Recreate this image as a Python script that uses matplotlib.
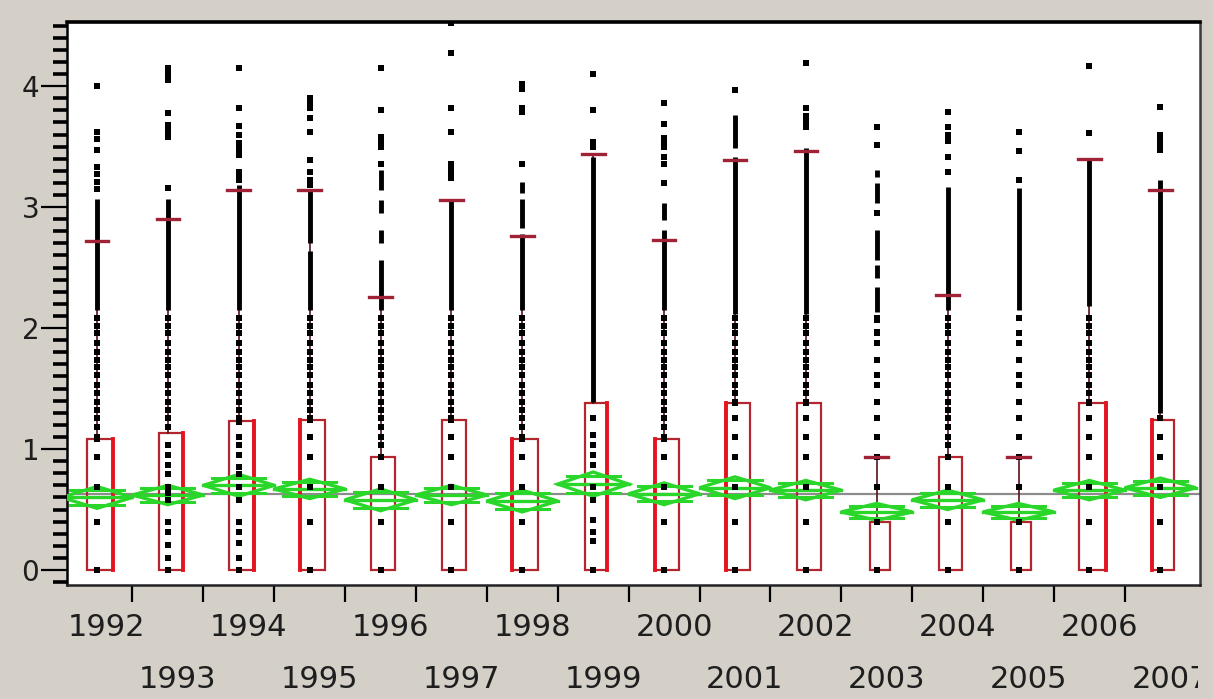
import numpy as np
import matplotlib.pyplot as plt
from matplotlib.patches import Rectangle, Polygon
from matplotlib.ticker import MultipleLocator
from matplotlib.transforms import Bbox, TransformedBbox, blended_transform_factory

years = [str(y) for y in range(1992, 2008)]

# box plot summary per year (Q1 is 0 everywhere)
q1 = [0.0] * 16
q3 = [1.08, 1.13, 1.23, 1.24, 0.93, 1.24, 1.08, 1.38, 1.08, 1.38, 1.38, 0.40, 0.93, 0.40, 1.38, 1.24]
whisker_hi = [2.72, 2.90, 3.14, 3.14, 2.26, 3.06, 2.76, 3.44, 2.73, 3.39, 3.46, 0.93, 2.27, 0.93, 3.40, 3.14]
box_w = [0.36, 0.34, 0.36, 0.36, 0.34, 0.34, 0.36, 0.32, 0.34, 0.34, 0.34, 0.28, 0.32, 0.28, 0.38, 0.32]
# side of the red "shortest half" bracket (-1 left, 1 right, 0 none)
half_side = [1, 1, 1, -1, 0, 0, -1, 1, -1, -1, 0, 0, 0, 0, 1, -1]

# means diamonds
means = [0.60, 0.62, 0.70, 0.67, 0.58, 0.62, 0.57, 0.71, 0.63, 0.68, 0.66, 0.48, 0.58, 0.48, 0.66, 0.68]
ci_half = [0.09, 0.08, 0.09, 0.08, 0.09, 0.08, 0.09, 0.10, 0.09, 0.09, 0.08, 0.07, 0.08, 0.07, 0.08, 0.08]
grand_mean = 0.625

# points inside the box
box_pts = [
    [0, 0.40, 0.69, 0.93, 1.08],
    [0, 0.10, 0.21, 0.31, 0.40, 0.58, 0.64, 0.69, 0.79, 0.87, 0.95, 1.03],
    [0, 0.10, 0.22, 0.31, 0.40, 0.58, 0.69, 0.79, 0.85, 0.95, 1.03, 1.10, 1.22],
    [0, 0.40, 0.69, 0.93, 1.10, 1.24],
    [0, 0.40, 0.69, 0.93],
    [0, 0.40, 0.69, 0.93, 1.10, 1.24],
    [0, 0.40, 0.69, 0.93, 1.08],
    [0, 0.24, 0.31, 0.41, 0.58, 0.69, 0.87, 0.95, 1.03, 1.12, 1.26],
    [0, 0.40, 0.69, 0.93, 1.08],
    [0, 0.40, 0.69, 0.93, 1.10, 1.26, 1.38],
    [0, 0.40, 0.69, 0.93, 1.10, 1.26, 1.38],
    [0, 0.40, 0.69, 0.93],
    [0, 0.40, 0.69, 0.93],
    [0, 0.40, 0.69, 0.93],
    [0, 0.40, 0.69, 0.93, 1.10, 1.26, 1.38],
    [0, 0.40, 0.69, 0.93, 1.10, 1.26],
]

# observed value levels in the dotted part above the boxes
dot_levels = [1.03, 1.10, 1.18, 1.26, 1.32, 1.39, 1.46, 1.53, 1.61, 1.68, 1.74, 1.80, 1.88, 1.96, 2.02, 2.08]
dot_levels_sparse = [1.10, 1.26, 1.39, 1.53, 1.61, 1.74, 1.88, 1.96, 2.08]
dots = [dot_levels] * 11 + [dot_levels_sparse, dot_levels, dot_levels_sparse, dot_levels, dot_levels]

# runs of points so close they merge into a solid column
dense = [
    [(2.15, 3.07)],
    [(2.15, 3.07)],
    [(2.15, 3.18)],
    [(2.15, 2.64), (2.70, 3.14)],
    [(2.15, 2.56), (2.70, 2.81), (2.95, 3.06), (3.14, 3.31)],
    [(2.15, 3.07)],
    [(2.15, 2.78), (2.83, 3.07), (3.12, 3.21)],
    [(1.39, 3.41)],
    [(2.15, 2.81), (2.89, 3.03)],
    [(2.12, 3.41), (3.49, 3.76)],
    [(2.12, 3.49)],
    [(2.13, 2.34), (2.41, 2.52), (2.56, 2.81), (3.03, 3.20), (3.25, 3.31)],
    [(2.15, 3.17)],
    [(2.15, 3.16)],
    [(2.18, 3.40)],
    [(1.30, 3.22)],
]

# single points above the solid columns
upper_pts = [
    [3.15, 3.21, 3.27, 3.33, 3.47, 3.56, 3.62, 4.00],
    [3.16, 3.58, 3.63, 3.68, 3.78, 4.05, 4.10, 4.15],
    [3.22, 3.26, 3.29, 3.43, 3.48, 3.53, 3.60, 3.67, 3.82, 4.15],
    [3.18, 3.22, 3.29, 3.39, 3.62, 3.74, 3.82, 3.86, 3.90],
    [3.36, 3.50, 3.54, 3.58, 3.80, 4.15],
    [3.24, 3.28, 3.32, 3.36, 3.62, 3.82, 4.27, 4.52],
    [3.36, 3.79, 3.82, 3.98, 4.02],
    [3.50, 3.54, 3.80, 4.10],
    [3.20, 3.36, 3.41, 3.50, 3.54, 3.57, 3.69, 3.86],
    [3.97],
    [3.66, 3.70, 3.75, 3.82, 4.19],
    [1.97, 2.07, 2.95, 3.51, 3.66],
    [3.29, 3.41, 3.55, 3.60, 3.66, 3.79],
    [3.22, 3.46, 3.62],
    [3.61, 4.17],
    [3.47, 3.52, 3.57, 3.60, 3.83],
]

bg = '#d4d0c8'
green = '#2bd62b'
fig = plt.figure(figsize=(12.13, 6.99), dpi=100, facecolor=bg)
ax = fig.add_axes([67 / 1213, 1 - 585 / 699, 1133 / 1213, 563 / 699])
ax.set_xlim(-0.423, 15.56)
ax.set_ylim(-0.124, 4.53)

x = np.arange(len(years))
box_off = 0.04

ax.axhline(grand_mean, color='#8c8c8c', lw=1.6, zorder=2)

for i in x:
    # means diamond with overlap marks
    m, h, hw = means[i], ci_half[i], 0.5
    ax.add_patch(Polygon([[i - hw, m], [i, m + h], [i + hw, m], [i, m - h]], closed=True,
                         fill=False, ec=green, lw=2.4, zorder=3))
    ax.plot([i - hw, i + hw], [m, m], color=green, lw=2.4, zorder=3)
    ov = h / np.sqrt(2)
    for s in (1, -1):
        ax.plot([i - hw * 0.75, i + hw * 0.75], [m + s * ov] * 2, color=green, lw=2.2, zorder=3)

    # box
    bx = i + box_off
    ax.add_patch(Rectangle((bx - box_w[i] / 2, q1[i]), box_w[i], q3[i] - q1[i],
                           fill=False, ec='#b3262e', lw=1.6, zorder=2.6))
    if half_side[i] != 0:
        xe = bx + half_side[i] * box_w[i] / 2
        ax.plot([xe, xe], [q1[i], q3[i]], color='#e4141e', lw=2.8, zorder=2.7)

    # whisker
    ax.plot([i, i], [q3[i], whisker_hi[i]], color='#5a1018', lw=1.2, zorder=2.8)

    # points
    for lo, hi in dense[i]:
        ax.vlines(i, lo, hi, colors='k', lw=3.5, zorder=4)
    first_dense = dense[i][0][0]
    pts = box_pts[i] + [v for v in dots[i] if q3[i] < v < first_dense] + upper_pts[i]
    ax.plot(np.full(len(pts), i), pts, 's', ms=3.8, color='k', mew=0, zorder=4)

    # whisker cap
    ax.plot([i - 0.16, i + 0.16], [whisker_hi[i]] * 2, color='#a02236', lw=2.4, zorder=5)

# axes frame
ax.spines['top'].set_linewidth(2.6)
ax.spines['top'].set_color('black')
ax.spines['left'].set_linewidth(1.8)
ax.spines['bottom'].set_linewidth(1.8)
ax.spines['bottom'].set_color('#222222')
ax.spines['right'].set_linewidth(1.8)
ax.spines['right'].set_color('#3a3a3a')

ax.set_yticks(range(5))
ax.set_yticklabels([str(v) for v in range(5)])
ax.yaxis.set_minor_locator(MultipleLocator(0.1))
ax.tick_params(axis='y', which='major', length=19, width=1.6, pad=1, labelsize=20, labelcolor='#1e1e1e')
ax.tick_params(axis='y', which='minor', length=10, width=2.6)

ax.set_xticks(x[:-1] + 0.5)
ax.set_xticklabels([])
ax.tick_params(axis='x', which='major', length=12, width=1.6)

# staggered year labels, the last one cut off by the window edge
tr = blended_transform_factory(ax.transData, fig.transFigure)
clip = TransformedBbox(Bbox([[0, 0], [1198 / 1213, 1]]), fig.transFigure)
for i, yl in enumerate(years):
    yy = 1 - 628 / 699 if i % 2 == 0 else 1 - 680 / 699
    t = fig.text(i + 0.14, yy, yl, transform=tr, ha='center', va='center',
                 fontsize=22, color='#1e1e1e')
    t.set_clip_box(clip)
    t.set_clip_on(True)

fig.savefig('out.png', dpi=100, facecolor=bg)
